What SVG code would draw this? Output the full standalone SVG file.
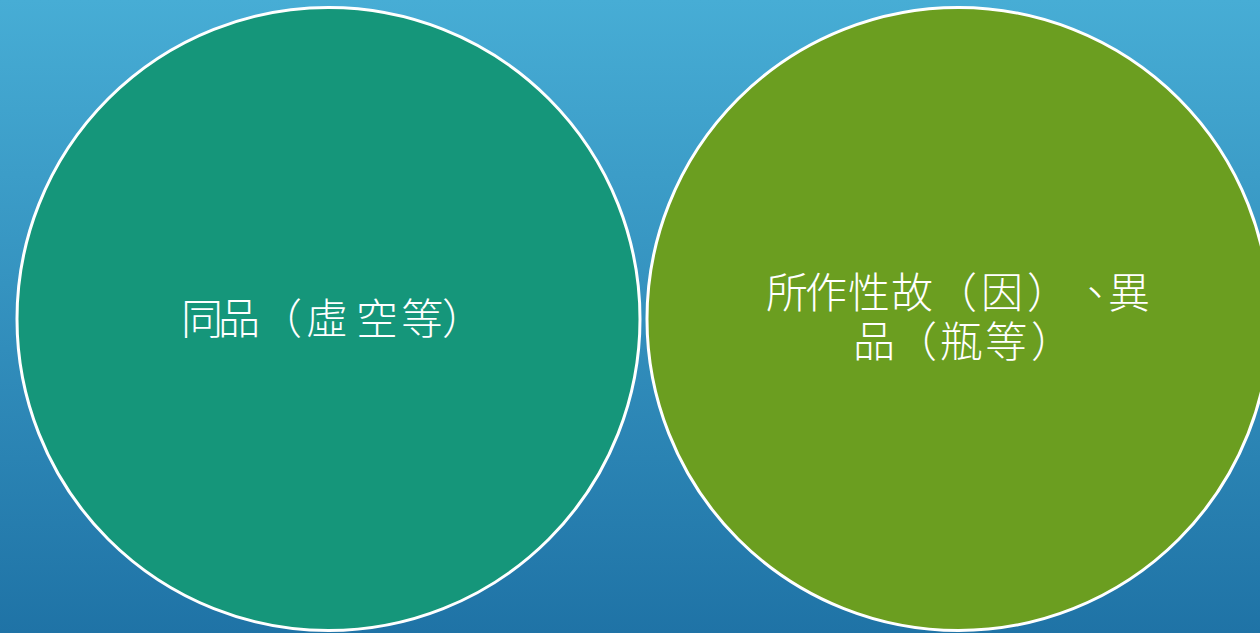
<svg xmlns="http://www.w3.org/2000/svg" width="1260" height="633" viewBox="0 0 1260 633">
<style>
.c{stroke:#ffffff;stroke-width:3}
.t{fill:#ffffff;font-family:"Noto Sans CJK TC","Noto Sans CJK SC",serif;font-size:42px;font-weight:300;text-spacing-trim:space-all;font-kerning:none}
</style>
<defs>
<linearGradient id="bg" x1="0" y1="0" x2="0" y2="1">
<stop offset="0" stop-color="#47add5"/>
<stop offset="1" stop-color="#1f73a6"/>
</linearGradient>
</defs>
<rect width="1260" height="633" fill="url(#bg)"/>
<g id="node-left">
<circle class="c" cx="328.5" cy="319" r="311.5" fill="#15967a"/>
<text class="t" x="181 218 260 306 356 401 442" y="334">同品（虛空等）</text>
</g>
<g id="node-right">
<circle class="c" cx="958.5" cy="319" r="311.5" fill="#6b9e20"/>
<text class="t" x="766 805 848 891 935 981 1027 1074 1108" y="308">所作性故（因）、異</text>
<text class="t" x="853 895 940 985 1031" y="357">品（瓶等）</text>
</g>
<g id="connectors"/>
</svg>
